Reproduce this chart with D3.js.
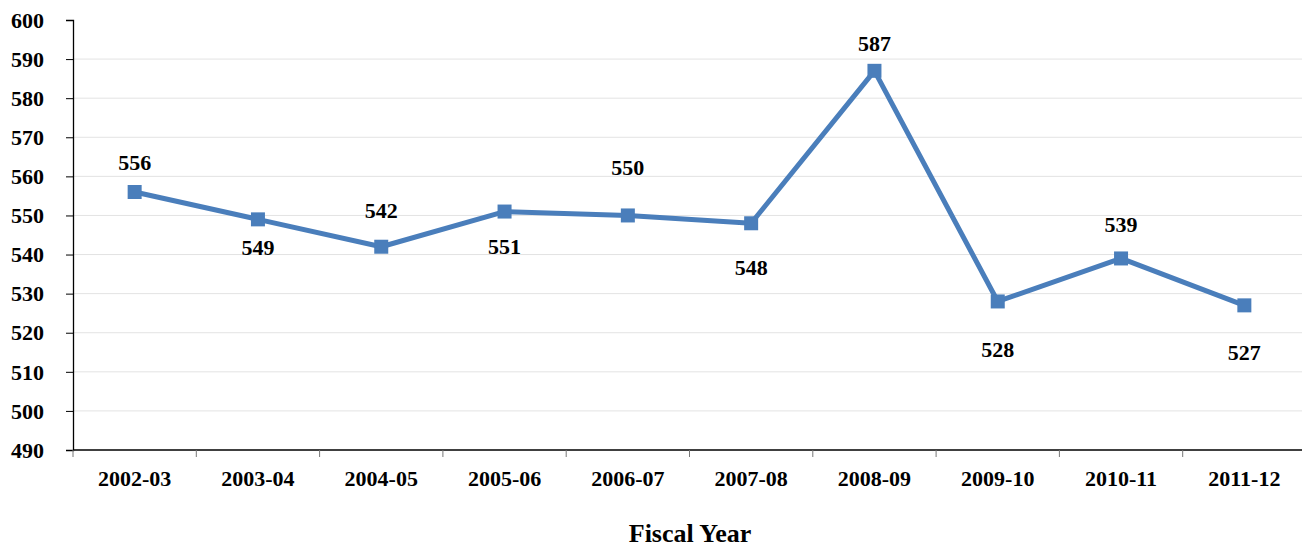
<!DOCTYPE html>
<html><head><meta charset="utf-8">
<script src="https://cdn.jsdelivr.net/npm/d3@7/dist/d3.min.js"></script>
<style>
body{margin:0;background:#fff;}
text{font-family:"Liberation Serif","DejaVu Serif",serif;font-weight:bold;fill:#000;}
</style></head>
<body><svg id="c" width="1302" height="548"></svg>
<script>
const categories = ["2002-03","2003-04","2004-05","2005-06","2006-07","2007-08","2008-09","2009-10","2010-11","2011-12"];
const values = [556,549,542,551,550,548,587,528,539,527];
const yTicks = [490,500,510,520,530,540,550,560,570,580,590,600];
const labelOffsets = [-30,28,-36,35,-48,44,-28,48,-34,47];

(function(){
const svg = d3.select("#c");
const mLeft = 73, mRight = 1306, mTop = 20, mBottom = 450;
const x = d3.scaleBand().domain(categories).range([mLeft, mRight]);
const y = d3.scaleLinear().domain([490,600]).range([mBottom, mTop]);

// gridlines
svg.append("g").selectAll("line").data(yTicks.filter(t => t > 490 && t < 600)).join("line")
  .attr("x1", mLeft).attr("x2", 1302).attr("y1", d => y(d)).attr("y2", d => y(d))
  .attr("stroke", "#e3e3e3").attr("stroke-width", 1);

// y axis
const ya = svg.append("g").attr("transform", `translate(${mLeft},0)`)
  .call(d3.axisLeft(y).tickValues(yTicks).tickSize(7).tickPadding(22));
ya.select(".domain").attr("stroke", "#000").attr("stroke-width", 1.3);
ya.selectAll(".tick line").attr("stroke", "#000");
ya.selectAll(".tick text").style("font-size", "22px").attr("dy", "0.33em");

// x axis
const xa = svg.append("g").attr("transform", `translate(0,${mBottom})`)
  .call(d3.axisBottom(x).tickSize(0).tickPadding(20));
xa.select(".domain").remove();
xa.append("line").attr("x1", mLeft).attr("x2", 1302).attr("stroke", "#000").attr("stroke-width", 1.3);
xa.selectAll(".tick text").style("font-size", "22px");
xa.append("g").selectAll("line").data(categories).join("line")
  .attr("x1", d => x(d)).attr("x2", d => x(d)).attr("y1", 0).attr("y2", 7)
  .attr("stroke", "#777").attr("stroke-width", 1);

// line
const cx = d => x(d) + x.bandwidth() / 2;
const pts = categories.map((c, i) => [cx(c), y(values[i])]);
svg.append("path").datum(pts).attr("d", d3.line())
  .attr("fill", "none").attr("stroke", "#4a7ebb").attr("stroke-width", 5).attr("stroke-linejoin", "round");

svg.append("g").selectAll("rect").data(pts).join("rect")
  .attr("x", d => d[0] - 7).attr("y", d => d[1] - 7).attr("width", 14).attr("height", 14)
  .attr("fill", "#4a7ebb");

svg.append("g").selectAll("text").data(categories).join("text")
  .attr("x", d => cx(d)).attr("y", (d, i) => y(values[i]) + labelOffsets[i])
  .attr("dy", "0.35em").attr("text-anchor", "middle").style("font-size", "22px")
  .text((d, i) => values[i]);

svg.append("text").attr("x", 690).attr("y", 533).attr("dy", "0.35em")
  .attr("text-anchor", "middle").style("font-size", "26px").text("Fiscal Year");
})();
</script></body></html>
